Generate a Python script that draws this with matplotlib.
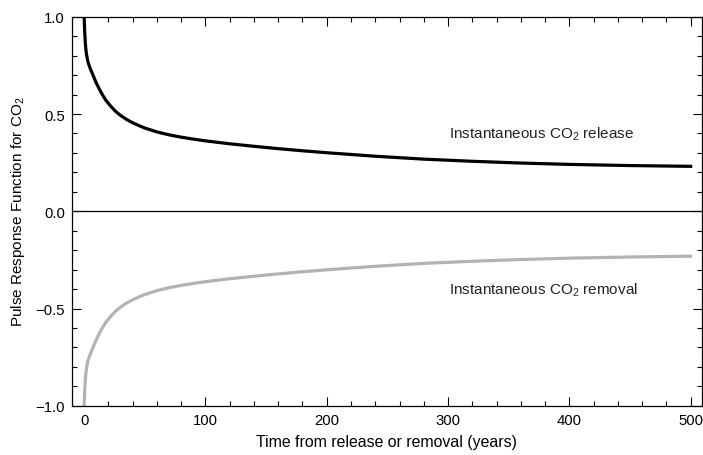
import matplotlib
matplotlib.use("Agg")
import matplotlib.pyplot as plt
from matplotlib.ticker import MultipleLocator

plt.rcParams["font.family"] = ["Liberation Sans", "DejaVu Sans"]
plt.rcParams["mathtext.fontset"] = "custom"
plt.rcParams["mathtext.rm"] = "Liberation Sans"
plt.rcParams["mathtext.it"] = "Liberation Sans"
plt.rcParams["mathtext.bf"] = "Liberation Sans"

# Time after the pulse (years)
years = [0, 0.5, 1, 1.5, 2, 3, 4, 5, 6, 8, 10, 12, 15, 18, 22, 26, 30, 35,
         40, 45, 50, 60, 70, 80, 90, 100, 120, 140, 160, 180, 200, 240, 280,
         320, 360, 400, 450, 500]

# Fraction of the pulse still in the atmosphere after a release
release = [1.0, 0.92, 0.865, 0.83, 0.805, 0.772, 0.752, 0.735, 0.72, 0.69,
           0.66, 0.635, 0.60, 0.57, 0.54, 0.513, 0.493, 0.472, 0.455, 0.441,
           0.428, 0.408, 0.393, 0.381, 0.371, 0.362, 0.347, 0.334, 0.322,
           0.311, 0.301, 0.283, 0.268, 0.257, 0.248, 0.241, 0.235, 0.231]

# Same response after a removal
removal = [-1.0, -0.92, -0.865, -0.83, -0.805, -0.772, -0.752, -0.735,
           -0.72, -0.69, -0.66, -0.635, -0.60, -0.57, -0.54, -0.513, -0.493,
           -0.472, -0.455, -0.441, -0.428, -0.408, -0.393, -0.381, -0.371,
           -0.362, -0.347, -0.334, -0.322, -0.311, -0.301, -0.283, -0.268,
           -0.257, -0.248, -0.241, -0.235, -0.231]

fig = plt.figure(figsize=(7.03, 4.56), dpi=100)
ax = fig.add_axes([0.1024, 0.108, 0.8956, 0.853])

ax.plot(years, release, color="black", lw=2.3, solid_joinstyle="round")
ax.plot(years, removal, color="#b3b3b3", lw=2.3, solid_joinstyle="round")
ax.axhline(0, color="black", lw=0.9)

ax.set_xlim(-10, 509)
ax.set_ylim(-1.0, 1.0)
ax.xaxis.set_major_locator(MultipleLocator(100))
ax.xaxis.set_minor_locator(MultipleLocator(20))
ax.yaxis.set_major_locator(MultipleLocator(0.5))
ax.yaxis.set_minor_locator(MultipleLocator(0.1))
ax.yaxis.set_major_formatter(
    plt.FuncFormatter(lambda v, p: f"{v:.1f}".replace("-", "\u2212")))

ax.tick_params(which="both", direction="in", top=True, right=True,
               labelsize=10.7, width=0.8, pad=5, colors="black")
ax.tick_params(which="major", length=6.5)
ax.tick_params(which="minor", length=3.5)
for s in ax.spines.values():
    s.set_linewidth(0.9)

ax.text(301, 0.40, "Instantaneous CO$_2$ release", fontsize=11,
        va="center", ha="left", color="#222222")
ax.text(301, -0.40, "Instantaneous CO$_2$ removal", fontsize=11,
        va="center", ha="left", color="#222222")

ax.set_xlabel("Time from release or removal (years)", fontsize=11.4,
              labelpad=5)
ax.set_ylabel("Pulse Response Function for CO$_2$", fontsize=11,
              labelpad=6)

fig.savefig("out.png", dpi=100)
